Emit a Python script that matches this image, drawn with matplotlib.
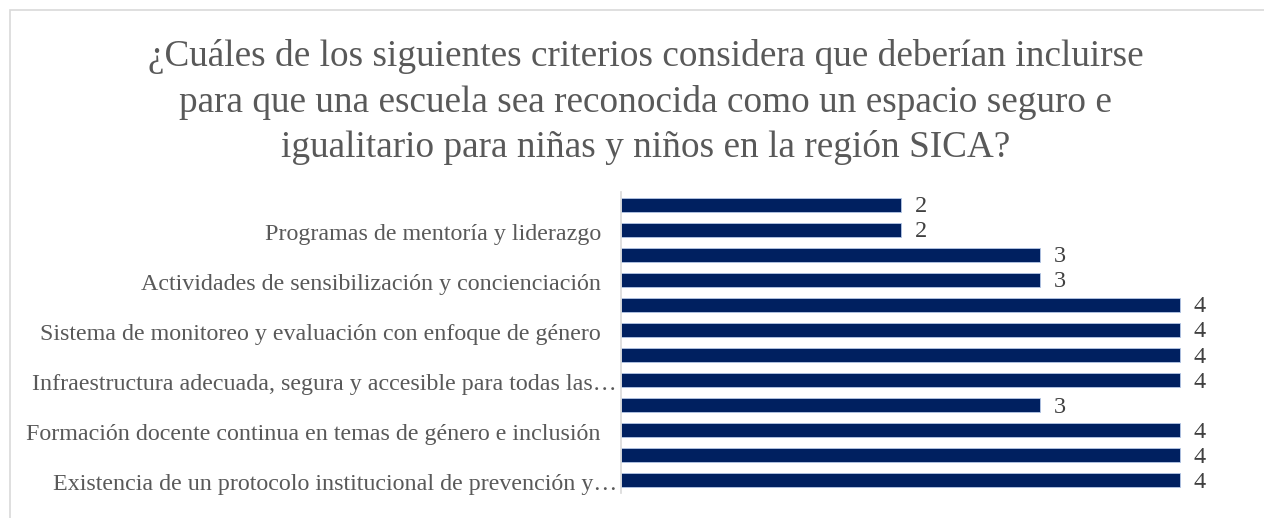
import matplotlib
matplotlib.use("Agg")
import matplotlib.pyplot as plt
import matplotlib.transforms as mtransforms
from matplotlib.patches import Rectangle

title = ("¿Cuáles de los siguientes criterios considera que deberían incluirse\n"
         "para que una escuela sea reconocida como un espacio seguro e\n"
         "igualitario para niñas y niños en la región SICA?")

# categories top to bottom (only every other label is shown in the reference)
categories = [
    "",
    "Programas de mentoría y liderazgo",
    "",
    "Actividades de sensibilización y concienciación",
    "",
    "Sistema de monitoreo y evaluación con enfoque de género",
    "",
    "Infraestructura adecuada, segura y accesible para todas las…",
    "",
    "Formación docente continua en temas de género e inclusión",
    "",
    "Existencia de un protocolo institucional de prevención y…",
]
values = [2, 2, 3, 3, 4, 4, 4, 4, 3, 4, 4, 4]

plt.rcParams['font.family'] = ['Liberation Serif', 'DejaVu Serif']

W, H = 1264, 518
fig = plt.figure(figsize=(W / 100, H / 100), dpi=100)

# chart frame (cropped)
fig.patches.append(Rectangle((10 / W, -0.1), 1.2, 1 - 10 / H + 0.1,
                             transform=fig.transFigure, fill=False,
                             edgecolor='#d9d9d9', linewidth=1.2))

left, right, top, bottom = 621, 1250, 192, 493
ax = fig.add_axes([left / W, 1 - bottom / H, (right - left) / W, (bottom - top) / H])

y = list(range(len(values)))
ax.barh(y, values, height=0.56, color='#002060', edgecolor='#b4c7e7', linewidth=0.6)
ax.set_ylim(len(values) - 0.5, -0.5)
ax.set_xlim(0, (right - left) / 139.75)

ax.set_yticks(y)
ax.set_yticklabels([])
ax.tick_params(axis='y', length=0)
ax.set_xticks([])

# category labels: truncated ones (ending with an ellipsis) reach the axis
base = ax.get_yaxis_transform()
for yi, lab in zip(y, categories):
    if not lab:
        continue
    dx = -4 if lab.endswith("…") else -20
    tr = base + mtransforms.ScaledTranslation(dx / 100, -2 / 100, fig.dpi_scale_trans)
    ax.text(0, yi, lab, transform=tr, ha='right', va='center_baseline',
            fontsize=17.3, color='#595959')

for s in ['top', 'right', 'bottom']:
    ax.spines[s].set_visible(False)
ax.spines['left'].set_color('#d9d9d9')
ax.spines['left'].set_linewidth(1.2)

for yi, v in zip(y, values):
    ax.annotate(str(v), (v, yi), xytext=(14, -2), textcoords='offset pixels',
                va='center', ha='left', fontsize=17.5, color='#404040')

fig.text(0.511, 1 - 102 / H, title, ha='center', va='center', fontsize=26.8,
         color='#595959', linespacing=1.38)

fig.savefig('out.png', dpi=100)
